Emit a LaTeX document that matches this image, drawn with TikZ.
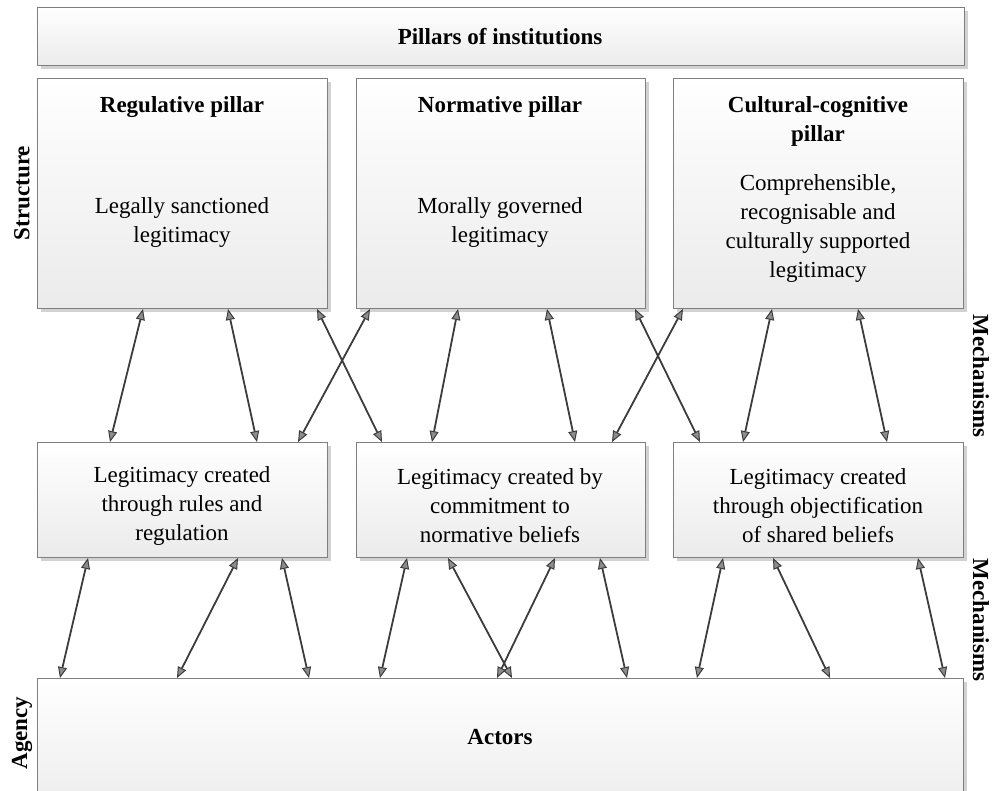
\documentclass[tikz,border=0pt]{standalone}
\usepackage{fontspec}
\setmainfont{Liberation Serif}
\usetikzlibrary{arrows.meta,calc,shadows}
\definecolor{boxline}{HTML}{7F7F7F}
\definecolor{arrline}{HTML}{3C3C3C}
\definecolor{tipfill}{HTML}{8C8C8C}
\definecolor{shadowc}{HTML}{D2D2D2}
\definecolor{boxbottom}{HTML}{EBEBEB}
\tikzset{
  box/.style={rectangle, draw=boxline, line width=1pt, top color=white, bottom color=boxbottom,
    anchor=north west, inner sep=0pt,
    drop shadow={shadow xshift=3pt, shadow yshift=-3pt, fill=shadowc, opacity=1}},
  lbl/.style={font=\fontsize{23}{29}\selectfont, align=center, text=black, inner sep=0pt},
  blbl/.style={font=\fontsize{23}{29}\selectfont\bfseries, align=center, text=black, inner sep=0pt},
  arr/.style={draw=arrline, line width=1.8pt,
    {Triangle[length=11pt,width=9pt,fill=tipfill,line width=1pt]}-{Triangle[length=11pt,width=9pt,fill=tipfill,line width=1pt]}},
}
\begin{document}
\begin{tikzpicture}[x=1pt,y=-1pt]
\useasboundingbox (0,0) rectangle (993,790);
\clip (0,0) rectangle (993,790);

% boxes
\node[box, minimum width=927pt, minimum height=58pt] (T) at (37,7) {};
\node[box, minimum width=290pt, minimum height=230pt] (R) at (37,78) {};
\node[box, minimum width=289pt, minimum height=230pt] (N) at (356,78) {};
\node[box, minimum width=290pt, minimum height=230pt] (C) at (673,78) {};
\node[box, minimum width=290pt, minimum height=115pt] (M1) at (37,442) {};
\node[box, minimum width=289pt, minimum height=115pt] (M2) at (356,442) {};
\node[box, minimum width=290pt, minimum height=115pt] (M3) at (673,442) {};
\node[box, minimum width=926pt, minimum height=140pt] (A) at (37,678) {};

% texts
\node[blbl] (Tt) at (500,37) {Pillars of institutions};
\node[blbl] (Rh) at (182,107) {Regulative pillar};
\node[lbl]  (Rb) at (182,222) {Legally sanctioned\\legitimacy};
\node[blbl] (Nh) at (500,107) {Normative pillar};
\node[lbl]  (Nb) at (500,222) {Morally governed\\legitimacy};
\node[blbl] (Ch) at (818,121) {Cultural-cognitive\\pillar};
\node[lbl]  (Cb) at (818,228) {Comprehensible,\\recognisable and\\culturally supported\\legitimacy};
\node[lbl]  (M1t) at (182,506) {Legitimacy created\\through rules and\\regulation};
\node[lbl]  (M2t) at (500,506) {Legitimacy created by\\commitment to\\normative beliefs};
\node[lbl]  (M3t) at (818,506) {Legitimacy created\\through objectification\\of shared beliefs};
\node[blbl] (At) at (500,737) {Actors};

% side labels
\node[blbl, rotate=90] (S) at (22,193) {Structure};
\node[blbl, rotate=90] (Ag) at (22,733) {Agency};
\node[blbl, rotate=-90] (Me1) at (981,376) {Mechanisms};
\node[blbl, rotate=-90] (Me2) at (981,620) {Mechanisms};

% upper arrows
\draw[arr] ($(R.south west)+(106,0)$) -- ($(M1.north west)+(73,0)$);
\draw[arr] ($(R.south west)+(191,0)$) -- ($(M1.north west)+(220,0)$);
\draw[arr] ($(R.south west)+(280,0)$) -- ($(M2.north west)+(26,0)$);
\draw[arr] ($(N.south west)+(14,0)$) -- ($(M1.north west)+(261,0)$);
\draw[arr] ($(N.south west)+(102,0)$) -- ($(M2.north west)+(76,0)$);
\draw[arr] ($(N.south west)+(191,0)$) -- ($(M2.north west)+(219,0)$);
\draw[arr] ($(N.south west)+(279,0)$) -- ($(M3.north west)+(27,0)$);
\draw[arr] ($(C.south west)+(10,0)$) -- ($(M2.north west)+(256,0)$);
\draw[arr] ($(C.south west)+(99,0)$) -- ($(M3.north west)+(70,0)$);
\draw[arr] ($(C.south west)+(185,0)$) -- ($(M3.north west)+(214,0)$);

% lower arrows
\draw[arr] ($(M1.south west)+(51,0)$) -- ($(A.north west)+(23,0)$);
\draw[arr] ($(M1.south west)+(201,0)$) -- ($(A.north west)+(140,0)$);
\draw[arr] ($(M1.south west)+(245,0)$) -- ($(A.north west)+(272,0)$);
\draw[arr] ($(M2.south west)+(51,0)$) -- ($(A.north west)+(343,0)$);
\draw[arr] ($(M2.south west)+(92,0)$) -- ($(A.north west)+(475,0)$);
\draw[arr] ($(M2.south west)+(199,0)$) -- ($(A.north west)+(460,0)$);
\draw[arr] ($(M2.south west)+(244,0)$) -- ($(A.north west)+(590,0)$);
\draw[arr] ($(M3.south west)+(50,0)$) -- ($(A.north west)+(660,0)$);
\draw[arr] ($(M3.south west)+(100,0)$) -- ($(A.north west)+(793,0)$);
\draw[arr] ($(M3.south west)+(245,0)$) -- ($(A.north west)+(908,0)$);
\end{tikzpicture}
\end{document}
